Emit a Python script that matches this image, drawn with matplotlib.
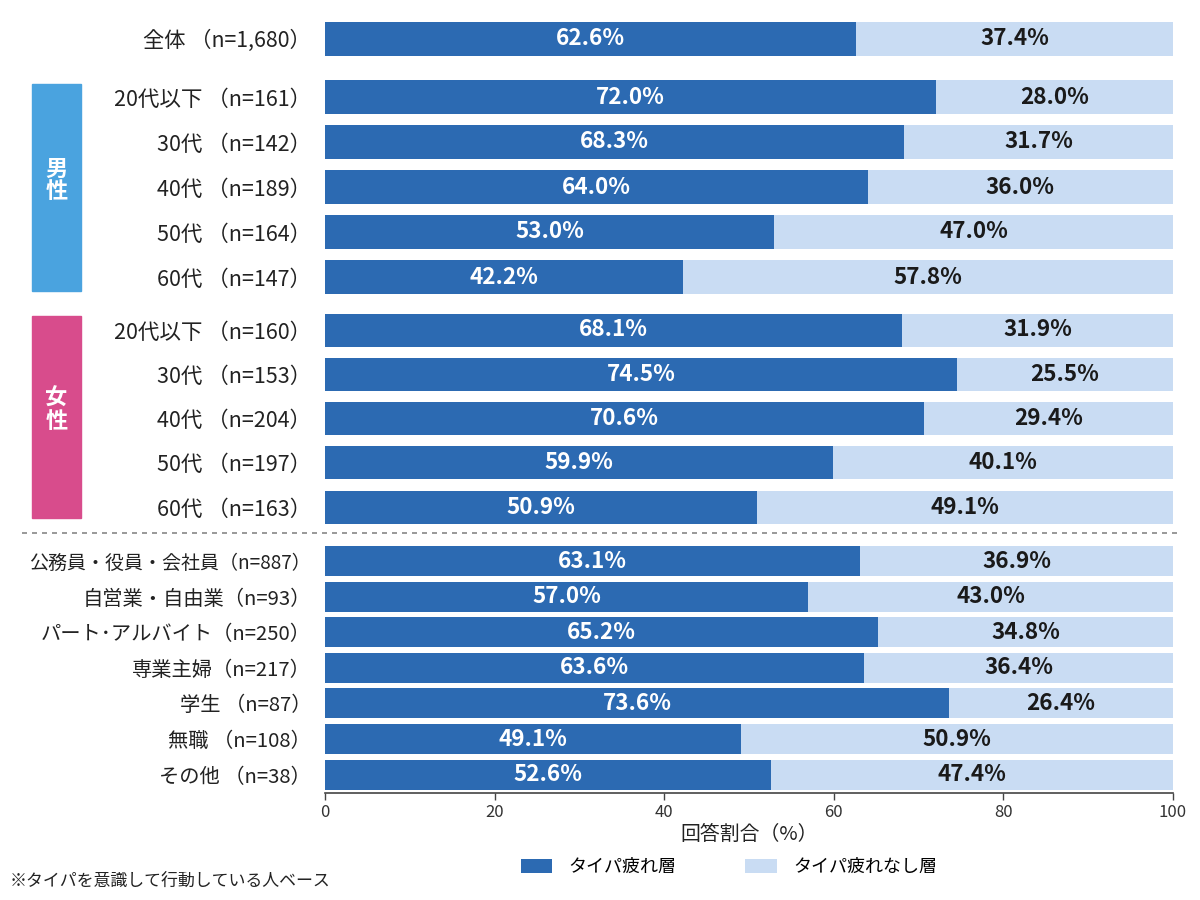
import matplotlib
matplotlib.use("Agg")
import matplotlib.pyplot as plt
from matplotlib.patches import Patch, Rectangle
from matplotlib.lines import Line2D

plt.rcParams['font.family'] = ['Noto Sans CJK JP', 'DejaVu Sans']

# ---- data ----
labels = [
    "全体 （n=1,680）",
    "20代以下 （n=161）", "30代 （n=142）", "40代 （n=189）", "50代 （n=164）", "60代 （n=147）",
    "20代以下 （n=160）", "30代 （n=153）", "40代 （n=204）", "50代 （n=197）", "60代 （n=163）",
    "公務員・役員・会社員（n=887）", "自営業・自由業（n=93）", "パート･アルバイト（n=250）",
    "専業主婦（n=217）", "学生 （n=87）", "無職 （n=108）", "その他 （n=38）",
]
tired = [62.6,
         72.0, 68.3, 64.0, 53.0, 42.2,
         68.1, 74.5, 70.6, 59.9, 50.9,
         63.1, 57.0, 65.2, 63.6, 73.6, 49.1, 52.6]
not_tired = [37.4,
             28.0, 31.7, 36.0, 47.0, 57.8,
             31.9, 25.5, 29.4, 40.1, 49.1,
             36.9, 43.0, 34.8, 36.4, 26.4, 50.9, 47.4]
series_names = ["タイパ疲れ層", "タイパ疲れなし層"]
group_names = ["男\n性", "女\n性"]
xticks = [0, 20, 40, 60, 80, 100]
xlabel = "回答割合（%）"
footnote = "※タイパを意識して行動している人ベース"

# ---- layout (pixel units, y downward) ----
W, H = 1200, 900
ax_left, ax_right, ax_top, ax_bottom = 325, 1173, 10, 793
# group layout: (first center, pitch, count, bar height, label font size)
layout = [(38.8, 0, 1, 34, 15.3), (97, 45, 5, 34, 15.5), (330, 44.3, 5, 33, 15.5),
          (561, 35.6, 7, 30, 14.6)]
ypos, heights, lsizes = [], [], []
for c0, p, n, h, fs in layout:
    for i in range(n):
        ypos.append(c0 + i * p)
        heights.append(h)
        lsizes.append(fs)
lsizes[11] = 13.7  # longest label drawn slightly smaller

DARK = "#2C6AB2"
LIGHT = "#C9DCF3"
MALE = "#4AA3DF"
FEMALE = "#D84C8C"

fig = plt.figure(figsize=(W / 100, H / 100), dpi=100)
ax = fig.add_axes([ax_left / W, 1 - ax_bottom / H, (ax_right - ax_left) / W, (ax_bottom - ax_top) / H])
ax.set_xlim(0, 100)
ax.set_ylim(ax_bottom, ax_top)

ax.barh(ypos, tired, height=heights, color=DARK, edgecolor="none")
ax.barh(ypos, not_tired, left=tired, height=heights, color=LIGHT, edgecolor="none")

for y, t, nt in zip(ypos, tired, not_tired):
    ax.text(t / 2, y, f"{t:.1f}%", ha="center", va="center", color="white",
            fontsize=16.2, fontweight="bold")
    ax.text(t + nt / 2, y, f"{nt:.1f}%", ha="center", va="center", color="#1a1a1a",
            fontsize=16.2, fontweight="bold")

ax.set_yticks(ypos)
ax.set_yticklabels(labels, color="#222222")
for tl, fs in zip(ax.get_yticklabels(), lsizes):
    tl.set_fontsize(fs)
ax.tick_params(axis="y", length=0, pad=10)
ax.set_xticks(xticks)
ax.set_xticklabels([str(v) for v in xticks], fontsize=12, color="#333333")
ax.tick_params(axis="x", length=5, width=1, color="#444444", pad=3)
for s in ["left", "top", "right"]:
    ax.spines[s].set_visible(False)
ax.spines["bottom"].set_color("#444444")
ax.spines["bottom"].set_linewidth(1.2)
ax.set_xlabel(xlabel, fontsize=14.3, color="#222222", labelpad=2)

# gender boxes
for (x0, x1, y0, y1), col, name in [((32, 81, 84, 291), MALE, group_names[0]),
                                    ((32, 81, 316, 518), FEMALE, group_names[1])]:
    fig.patches.append(Rectangle((x0 / W, 1 - y1 / H), (x1 - x0) / W, (y1 - y0) / H,
                                 transform=fig.transFigure, color=col, zorder=0))
    fig.text((x0 + x1) / 2 / W, 1 - ((y0 + y1) / 2 - 7) / H, name, ha="center", va="center",
             color="white", fontsize=16, fontweight="bold", linespacing=1.0)

# dashed separator
fig.add_artist(Line2D([22 / W, 1178 / W], [1 - 533 / H, 1 - 533 / H], transform=fig.transFigure,
                      color="#888888", linestyle=(0, (3, 3)), linewidth=1.2))

handles = [Patch(facecolor=DARK, edgecolor="none"), Patch(facecolor=LIGHT, edgecolor="none")]
fig.legend(handles, series_names, loc="center", bbox_to_anchor=(729 / W, 1 - 867 / H), ncol=2,
           frameon=False, fontsize=13, handlelength=1.75, handleheight=0.78,
           handletextpad=0.9, columnspacing=3.8)

fig.text(10 / W, 1 - 881 / H, footnote, ha="left", va="center", fontsize=12.2, color="#222222")

fig.savefig("out.png", dpi=100, facecolor="white")
